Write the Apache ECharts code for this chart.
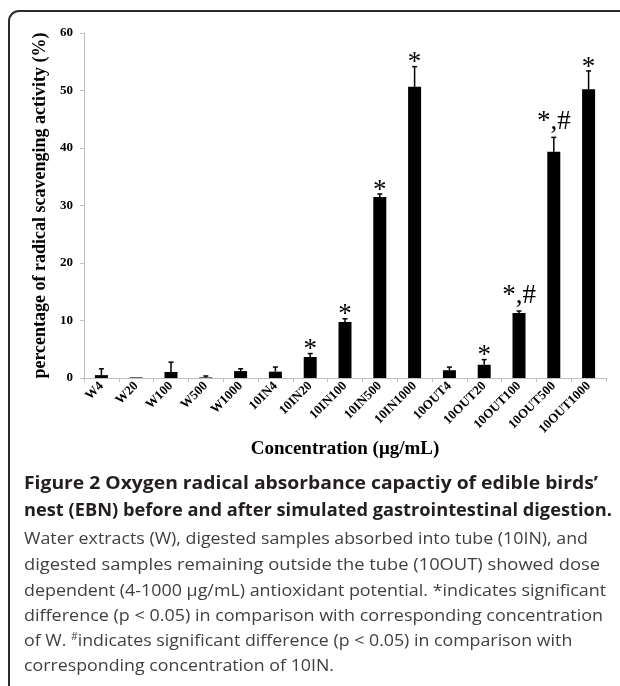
<!DOCTYPE html>
<html>
<head>
<meta charset="utf-8">
<style>
html,body{margin:0;padding:0;background:#fff;}
#chart{width:620px;height:686px;}
</style>
<script src="https://cdn.jsdelivr.net/npm/echarts@6/dist/echarts.min.js"></script>
</head>
<body>
<div id="chart"></div>
<script>
var categories = ['W4','W20','W100','W500','W1000','10IN4','10IN20','10IN100','10IN500','10IN1000','10OUT4','10OUT20','10OUT100','10OUT500','10OUT1000'];
var values = [0.5, 0.1, 1.05, 0.1, 1.2, 1.1, 3.65, 9.75, 31.5, 50.65, 1.35, 2.3, 11.3, 39.35, 50.2];
var errors = [1.1, 0, 1.7, 0.25, 0.4, 0.8, 0.6, 0.55, 0.5, 3.5, 0.55, 0.9, 0.35, 2.5, 3.2];
var marks = ['', '', '', '', '', '', '*', '*', '*', '*', '', '*', '*,#', '*,#', '*'];
var yTicks = [0, 10, 20, 30, 40, 50, 60];
var yName = 'percentage of radical scavenging activity (%)';
var xName = 'Concentration (\u03bcg/mL)';
var captionTitle = [
  "Figure 2 Oxygen radical absorbance capactiy of edible birds\u2019",
  "nest (EBN) before and after simulated gastrointestinal digestion."
];
var captionBody = [
  "Water extracts (W), digested samples absorbed into tube (10IN), and",
  "digested samples remaining outside the tube (10OUT) showed dose",
  "dependent (4-1000 \u03bcg/mL) antioxidant potential. *indicates significant",
  "difference (p < 0.05) in comparison with corresponding concentration",
  "of W. {sup|#}indicates significant difference (p < 0.05) in comparison with",
  "corresponding concentration of 10IN."
];

var chart = echarts.init(document.getElementById('chart'), null, {renderer: 'canvas'});

var serif = '"Liberation Serif", "Times New Roman", serif';

var mctx = document.createElement('canvas').getContext('2d');
function fitScale(text, font, target) {
  mctx.font = font;
  var w = mctx.measureText(text.replace('{sup|#}', '#')).width;
  return target / w;
}

var capX = 24;
var titleFont = 'bold 17px "Open Sans"';
var bodyFont = '17px "Open Sans"';
var titleY = [484, 511];
var titleRight = [598, 612];
var bodyY = [539, 565, 591, 616, 641, 666];
var bodyRight = [588, 600, 606, 603, 577, 334];

var graphics = [{
  type: 'rect',
  shape: {x: 9, y: 11, width: 700, height: 800, r: 10},
  style: {fill: 'none', stroke: '#2b2b2b', lineWidth: 2},
  silent: true
}];
captionTitle.forEach(function (t, i) {
  graphics.push({
    type: 'text', x: capX, y: titleY[i],
    scaleX: fitScale(t, titleFont, titleRight[i] - capX), originX: 0,
    style: {text: t, font: titleFont, fill: '#231f20', verticalAlign: 'middle', align: 'left'}
  });
});
captionBody.forEach(function (t, i) {
  graphics.push({
    type: 'text', x: capX, y: bodyY[i],
    scaleX: fitScale(t, bodyFont, bodyRight[i] - capX), originX: 0,
    style: {
      text: t, font: bodyFont, fill: '#3f3f3f', verticalAlign: 'middle', align: 'left',
      rich: {sup: {fontSize: 10, fontFamily: 'Open Sans', fill: '#3f3f3f', verticalAlign: 'top', padding: [0, 0, 8, 0]}}
    }
  });
});

var option = {
  animation: false,
  backgroundColor: '#fff',
  grid: {left: 84, right: 14, top: 33, bottom: 308},
  xAxis: {
    type: 'category',
    data: categories,
    axisLine: {lineStyle: {color: '#bfbfbf', width: 1}},
    axisTick: {show: true, length: 4, lineStyle: {color: '#bfbfbf'}},
    axisLabel: {rotate: 45, margin: 6, color: '#000', fontFamily: serif, fontWeight: 'bold', fontSize: 13, interval: 0},
    name: xName,
    nameLocation: 'middle',
    nameGap: 62,
    nameMoveOverlap: false,
    nameTextStyle: {color: '#000', fontFamily: serif, fontWeight: 'bold', fontSize: 19}
  },
  yAxis: {
    type: 'value',
    min: 0, max: 60, interval: 10,
    axisLine: {show: true, lineStyle: {color: '#bfbfbf', width: 1}},
    axisTick: {show: true, length: 4, lineStyle: {color: '#bfbfbf'}},
    splitLine: {show: false},
    axisLabel: {margin: 11, color: '#000', fontFamily: serif, fontWeight: 'bold', fontSize: 13,
      formatter: function (v) { return yTicks.indexOf(v) >= 0 ? String(v) : ''; }},
    name: yName,
    nameLocation: 'middle',
    nameGap: 35,
    nameMoveOverlap: false,
    nameTextStyle: {color: '#000', fontFamily: serif, fontWeight: 'bold', fontSize: 18}
  },
  series: [{
    type: 'bar',
    data: values,
    barWidth: 13,
    itemStyle: {color: '#000'},
    z: 2
  }, {
    type: 'custom',
    z: 3,
    data: values.map(function (v, i) { return [i, v, errors[i]]; }),
    renderItem: function (params, api) {
      var i = api.value(0), v = api.value(1), e = api.value(2);
      var m = marks[params.dataIndex];
      var base = api.coord([i, v]);
      var top = api.coord([i, v + e]);
      var children = [];
      if (e > 0) {
        children.push({type: 'line', shape: {x1: base[0], y1: base[1], x2: top[0], y2: top[1]}, style: {stroke: '#000', lineWidth: 1.5}});
        children.push({type: 'line', shape: {x1: top[0] - 2.5, y1: top[1], x2: top[0] + 2.5, y2: top[1]}, style: {stroke: '#000', lineWidth: 1.5}});
      }
      if (m) {
        var dy = m.length > 1 ? -2 : 10;
        children.push({type: 'text', x: top[0], y: top[1] + dy,
          style: {text: m, font: '27px ' + serif, fill: '#000', align: 'center', verticalAlign: 'bottom'}});
      }
      return {type: 'group', children: children};
    }
  }],
  graphic: graphics
};
chart.setOption(option);
</script>
</body>
</html>
